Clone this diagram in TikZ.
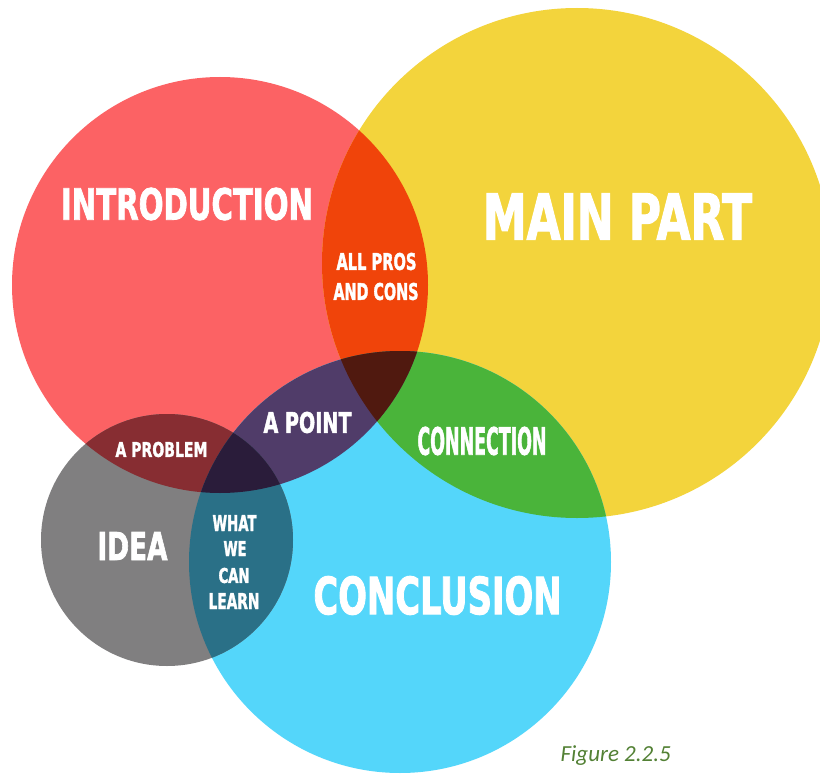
\documentclass[tikz,border=0pt]{standalone}
\usepackage{fontspec}
\usepackage{graphicx}
\newfontfamily\heavy[BoldFeatures={FakeBold=2}]{DejaVu Sans Condensed}
\newfontfamily\capfont{Carlito}
\definecolor{cRed}{RGB}{252,98,100}
\definecolor{cYellow}{RGB}{243,212,60}
\definecolor{cBlue}{RGB}{84,214,250}
\definecolor{cGray}{RGB}{128,127,128}
\definecolor{cOrange}{RGB}{240,68,10}
\definecolor{cGreen}{RGB}{74,180,58}
\definecolor{cPurple}{RGB}{80,60,105}
\definecolor{cBrown}{RGB}{80,25,15}
\definecolor{cDarkRed}{RGB}{135,45,50}
\definecolor{cTeal}{RGB}{42,112,135}
\definecolor{cNavy}{RGB}{42,28,58}
\definecolor{cCaption}{RGB}{83,129,53}
\newcommand\fitlbl[3]{\resizebox{#1pt}{#2pt}{\heavy\bfseries #3}}
\tikzset{lbl/.style={inner sep=0pt, outer sep=0pt, text=white}}
\begin{document}
\begin{tikzpicture}[x=1pt,y=-1pt]
\useasboundingbox (0,0) rectangle (820,776);
\fill[white] (0,0) rectangle (820,776);
\coordinate (R) at (220,285);
\coordinate (Y) at (577,263);
\coordinate (B) at (400,562);
\coordinate (G) at (167,540);
% base circles
\fill[cRed] (R) circle[radius=208];
\fill[cYellow] (Y) circle[radius=255];
\fill[cBlue] (B) circle[radius=211];
\fill[cGray] (G) circle[radius=126];
% pairwise overlaps
\begin{scope}\clip (R) circle[radius=208]; \fill[cOrange] (Y) circle[radius=255];\end{scope}
\begin{scope}\clip (Y) circle[radius=255]; \fill[cGreen] (B) circle[radius=211];\end{scope}
\begin{scope}\clip (R) circle[radius=208]; \fill[cPurple] (B) circle[radius=211];\end{scope}
\begin{scope}\clip (R) circle[radius=208]; \fill[cDarkRed] (G) circle[radius=126];\end{scope}
\begin{scope}\clip (G) circle[radius=126]; \fill[cTeal] (B) circle[radius=211];\end{scope}
% triple overlaps
\begin{scope}\clip (R) circle[radius=208]; \clip (Y) circle[radius=255]; \fill[cBrown] (B) circle[radius=211];\end{scope}
\begin{scope}\clip (R) circle[radius=208]; \clip (G) circle[radius=126]; \fill[cNavy] (B) circle[radius=211];\end{scope}
% labels
\node[lbl] (intro) at (187,204) {\fitlbl{252}{32}{INTRODUCTION}};
\node[lbl] (main) at (617.5,216.5) {\fitlbl{269}{46}{MAIN PART}};
\node[lbl] (pros1) at (376.5,261.5) {\fitlbl{80}{17}{ALL PROS}};
\node[lbl] (pros2) at (376,291.5) {\fitlbl{85}{17}{AND CONS}};
\node[lbl] (point) at (307.5,422.5) {\fitlbl{88}{21}{A POINT}};
\node[lbl] (problem) at (161.5,449.5) {\fitlbl{92}{15}{A PROBLEM}};
\node[lbl] (connection) at (482,441) {\fitlbl{129}{28}{CONNECTION}};
\node[lbl] (idea) at (132.5,546) {\fitlbl{70}{28}{IDEA}};
\node[lbl] (what) at (234.5,523) {\fitlbl{44}{16}{WHAT}};
\node[lbl] (we) at (235,548.5) {\fitlbl{23}{15}{WE}};
\node[lbl] (can) at (234,575.5) {\fitlbl{31}{15}{CAN}};
\node[lbl] (learn) at (234,601) {\fitlbl{51}{16}{LEARN}};
\node[lbl] (conclusion) at (437.5,595.5) {\fitlbl{248}{38}{CONCLUSION}};
\node[inner sep=0pt, anchor=base east, text=cCaption] (caption) at (671,761)
  {\capfont\itshape\fontsize{23}{27}\selectfont Figure 2.2.5};
\end{tikzpicture}
\end{document}
